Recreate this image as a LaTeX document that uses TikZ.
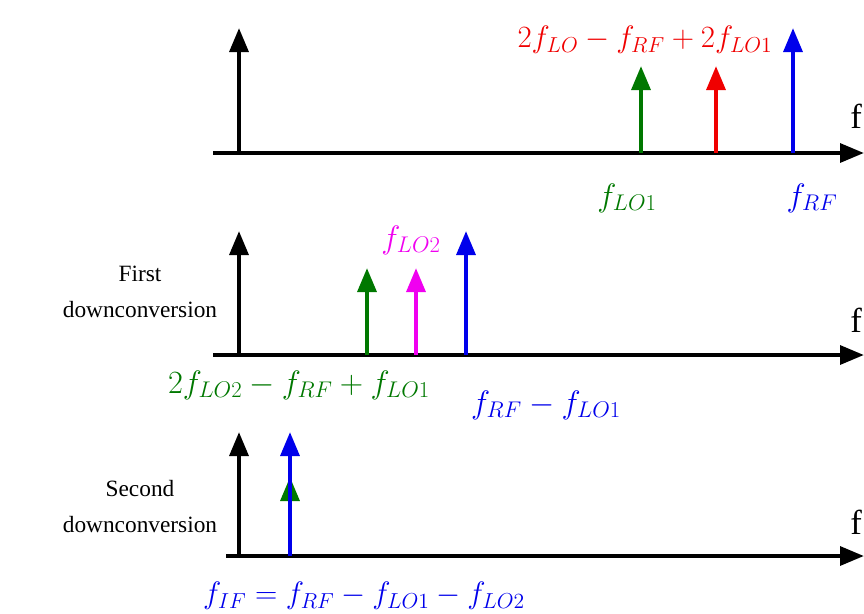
\RequirePackage{fix-cm}
\documentclass[tikz,border=0pt]{standalone}
\usepackage{fontspec}
\setmainfont{Liberation Serif}
\usetikzlibrary{arrows.meta}
\definecolor{dgreen}{RGB}{0,120,0}
\definecolor{mred}{RGB}{240,0,0}
\definecolor{mblue}{RGB}{0,0,235}
\definecolor{mmag}{RGB}{240,0,240}
\begin{document}
\begin{tikzpicture}[x=0.75pt,y=-0.75pt,
  spike/.style={line width=3.2pt,-{Triangle[length=18pt,width=14pt]}},
  axis/.style={line width=3.2pt,-{Triangle[length=18pt,width=14pt]}},
  lbl/.style={inner sep=0pt,font=\fontsize{24.3}{28}\selectfont},
  lblr/.style={inner sep=0pt,font=\fontsize{23.2}{27}\selectfont},
  side/.style={inner sep=0pt,align=center,font=\fontsize{17.5}{27}\selectfont},
  flbl/.style={inner sep=0pt,anchor=west,font=\fontsize{26}{30}\selectfont}]
\useasboundingbox (0,0) rectangle (864,614);
% panel 1
\coordinate (a1s) at (213,153); \coordinate (a1e) at (864,153);
\draw[axis] (a1s) -- (a1e);
\coordinate (p1b0) at (239,153); \coordinate (p1t0) at (239,28);
\draw[spike] (p1b0) -- (p1t0);
\coordinate (p1bg) at (641,153); \coordinate (p1tg) at (641,66);
\draw[spike,dgreen] (p1bg) -- (p1tg);
\coordinate (p1br) at (716,153); \coordinate (p1tr) at (716,66);
\draw[spike,mred] (p1br) -- (p1tr);
\coordinate (p1bb) at (793,153); \coordinate (p1tb) at (793,28);
\draw[spike,mblue] (p1bb) -- (p1tb);
\node[lblr,text=mred] (l1r) at (645,40) {$2f_{LO}-f_{RF}+2f_{LO1}$};
\node[lbl,text=dgreen] (l1g) at (627,198) {$f_{LO1}$};
\node[lbl,text=mblue] (l1b) at (812,198) {$f_{RF}$};
\node[flbl] (f1) at (850,116) {f};
% panel 2
\coordinate (a2s) at (213,355); \coordinate (a2e) at (864,355);
\draw[axis] (a2s) -- (a2e);
\coordinate (p2b0) at (239,355); \coordinate (p2t0) at (239,231);
\draw[spike] (p2b0) -- (p2t0);
\coordinate (p2bg) at (367,355); \coordinate (p2tg) at (367,268);
\draw[spike,dgreen] (p2bg) -- (p2tg);
\coordinate (p2bm) at (416,355); \coordinate (p2tm) at (416,268);
\draw[spike,mmag] (p2bm) -- (p2tm);
\coordinate (p2bb) at (466,355); \coordinate (p2tb) at (466,231);
\draw[spike,mblue] (p2bb) -- (p2tb);
\node[lbl,text=mmag] (l2m) at (411,240) {$f_{LO2}$};
\node[lbl,text=dgreen] (l2g) at (299,385) {$2f_{LO2}-f_{RF}+f_{LO1}$};
\node[lbl,text=mblue] (l2b) at (546,405) {$f_{RF}-f_{LO1}$};
\node[side] (s2) at (140,292) {First\\downconversion};
\node[flbl] (f2) at (850,320) {f};
% panel 3
\coordinate (a3s) at (226,556); \coordinate (a3e) at (864,556);
\draw[axis] (a3s) -- (a3e);
\coordinate (p3b0) at (239,556); \coordinate (p3t0) at (239,432);
\draw[spike] (p3b0) -- (p3t0);
\coordinate (p3bg) at (290,556); \coordinate (p3tg) at (290,477);
\draw[spike,dgreen] (p3bg) -- (p3tg);
\coordinate (p3bb) at (290,556); \coordinate (p3tb) at (290,432);
\draw[spike,mblue] (p3bb) -- (p3tb);
\node[side] (s3) at (140,507) {Second\\downconversion};
\node[lblr,text=mblue] (l3b) at (364,596) {$f_{IF}=f_{RF}-f_{LO1}-f_{LO2}$};
\node[flbl] (f3) at (850,522) {f};
\end{tikzpicture}
\end{document}
